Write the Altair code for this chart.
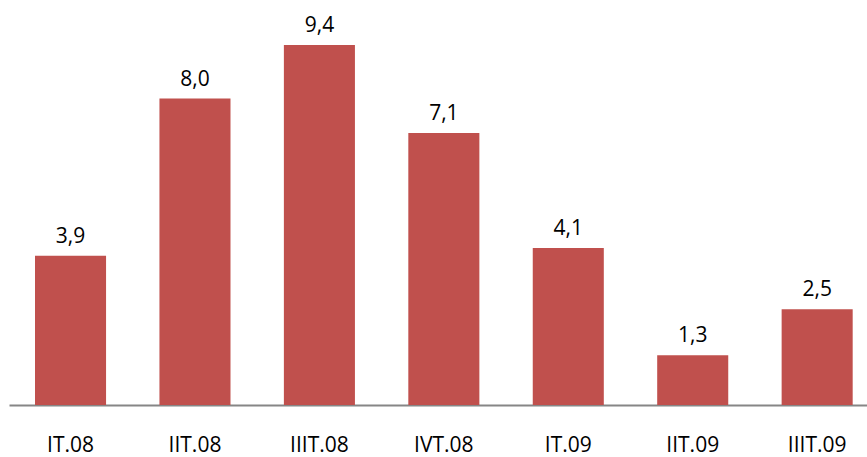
import altair as alt
import pandas as pd

quarters = ["IT.08", "IIT.08", "IIIT.08", "IVT.08", "IT.09", "IIT.09", "IIIT.09"]
values = [3.9, 8.0, 9.4, 7.1, 4.1, 1.3, 2.5]

df = pd.DataFrame({
    "quarter": quarters,
    "value": values,
    "label": [f"{v:.1f}".replace(".", ",") for v in values],
})

FONT = "Open Sans"

x_enc = alt.X(
    "quarter:N",
    sort=quarters,
    scale=alt.Scale(paddingInner=0.429, paddingOuter=0.162, align=0.645),
    axis=alt.Axis(
        title=None,
        labelAngle=0,
        ticks=False,
        tickSize=0,
        domainColor="#868686",
        domainWidth=2,
        labelFont=FONT,
        labelFontSize=21,
        labelColor="#000000",
        labelBaseline="alphabetic",
        labelPadding=46,
    ),
)
y_enc = alt.Y(
    "value:Q",
    scale=alt.Scale(domain=[0, 10], nice=False, zero=True),
    axis=None,
)

base = alt.Chart(df).encode(x=x_enc, y=y_enc)

bars = base.mark_bar(color="#C0504D")
labels = base.mark_text(
    font=FONT,
    fontSize=21,
    color="#000000",
    baseline="alphabetic",
    dy=-13,
).encode(text="label:N")

chart = (
    alt.layer(bars, labels)
    .properties(
        width=858,
        height=383,
        padding={"left": 9, "top": 22, "right": 0, "bottom": 52},
        autosize=alt.AutoSizeParams(type="none"),
        background="#ffffff",
    )
    .configure_view(stroke=None, strokeWidth=0)
)

chart.save("out.html", embed_options={"renderer": "svg", "actions": False})
